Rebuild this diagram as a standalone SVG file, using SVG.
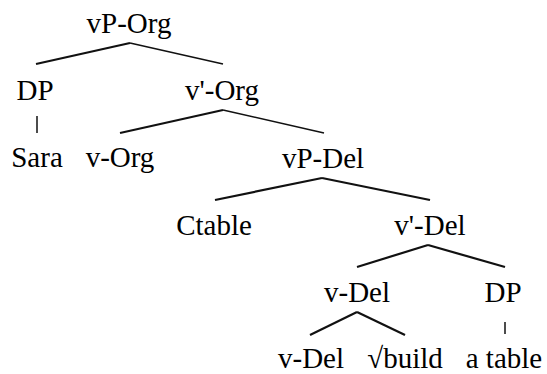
<svg xmlns="http://www.w3.org/2000/svg" width="547" height="374" viewBox="0 0 547 374">
<style>
.e line{stroke:#111;stroke-width:2.2;fill:none}
.e line.t{stroke-width:1.5}
</style>
<rect width="547" height="374" fill="#fff"/>
<g id="connectors" class="e">
<line x1="130" y1="43" x2="36" y2="64"/>
<line class="t" x1="130" y1="43" x2="223" y2="64"/>
<line class="t" x1="37" y1="116" x2="37" y2="133"/>
<line x1="223" y1="110" x2="120" y2="133"/>
<line class="t" x1="223" y1="110" x2="324" y2="133"/>
<line x1="322" y1="178" x2="215" y2="200"/>
<line x1="322" y1="178" x2="430" y2="200"/>
<line x1="428" y1="245" x2="357" y2="267"/>
<line x1="428" y1="245" x2="505" y2="267"/>
<line x1="357" y1="312" x2="310" y2="335"/>
<line x1="357" y1="312" x2="405" y2="335"/>
<line class="t" x1="505" y1="322" x2="505" y2="334"/>
</g>
<g id="vP-Org"><text x="129" y="33" font-family="Liberation Serif, Times New Roman, serif" font-size="29" text-anchor="middle">vP-Org</text></g>
<g id="DP1"><text x="35" y="100" font-family="Liberation Serif, Times New Roman, serif" font-size="29" text-anchor="middle">DP</text></g>
<g id="vbar-Org"><text x="222" y="100" font-family="Liberation Serif, Times New Roman, serif" font-size="29" text-anchor="middle">v'-Org</text></g>
<g id="Sara"><text x="37" y="167" font-family="Liberation Serif, Times New Roman, serif" font-size="29" text-anchor="middle">Sara</text></g>
<g id="v-Org"><text x="120" y="167" font-family="Liberation Serif, Times New Roman, serif" font-size="29" text-anchor="middle">v-Org</text></g>
<g id="vP-Del"><text x="323" y="168" font-family="Liberation Serif, Times New Roman, serif" font-size="29" text-anchor="middle">vP-Del</text></g>
<g id="Ctable"><text x="214" y="235" font-family="Liberation Serif, Times New Roman, serif" font-size="29" text-anchor="middle">Ctable</text></g>
<g id="vbar-Del"><text x="430" y="235" font-family="Liberation Serif, Times New Roman, serif" font-size="29" text-anchor="middle">v'-Del</text></g>
<g id="v-Del1"><text x="357" y="302" font-family="Liberation Serif, Times New Roman, serif" font-size="29" text-anchor="middle">v-Del</text></g>
<g id="DP2"><text x="503" y="302" font-family="Liberation Serif, Times New Roman, serif" font-size="29" text-anchor="middle">DP</text></g>
<g id="v-Del2"><text x="311" y="368" font-family="Liberation Serif, Times New Roman, serif" font-size="29" text-anchor="middle">v-Del</text></g>
<g id="build"><text x="405" y="368" font-family="Liberation Serif, Times New Roman, serif" font-size="29" text-anchor="middle">√build</text></g>
<g id="atable"><text x="504" y="368" font-family="Liberation Serif, Times New Roman, serif" font-size="29" text-anchor="middle">a table</text></g>
</svg>
